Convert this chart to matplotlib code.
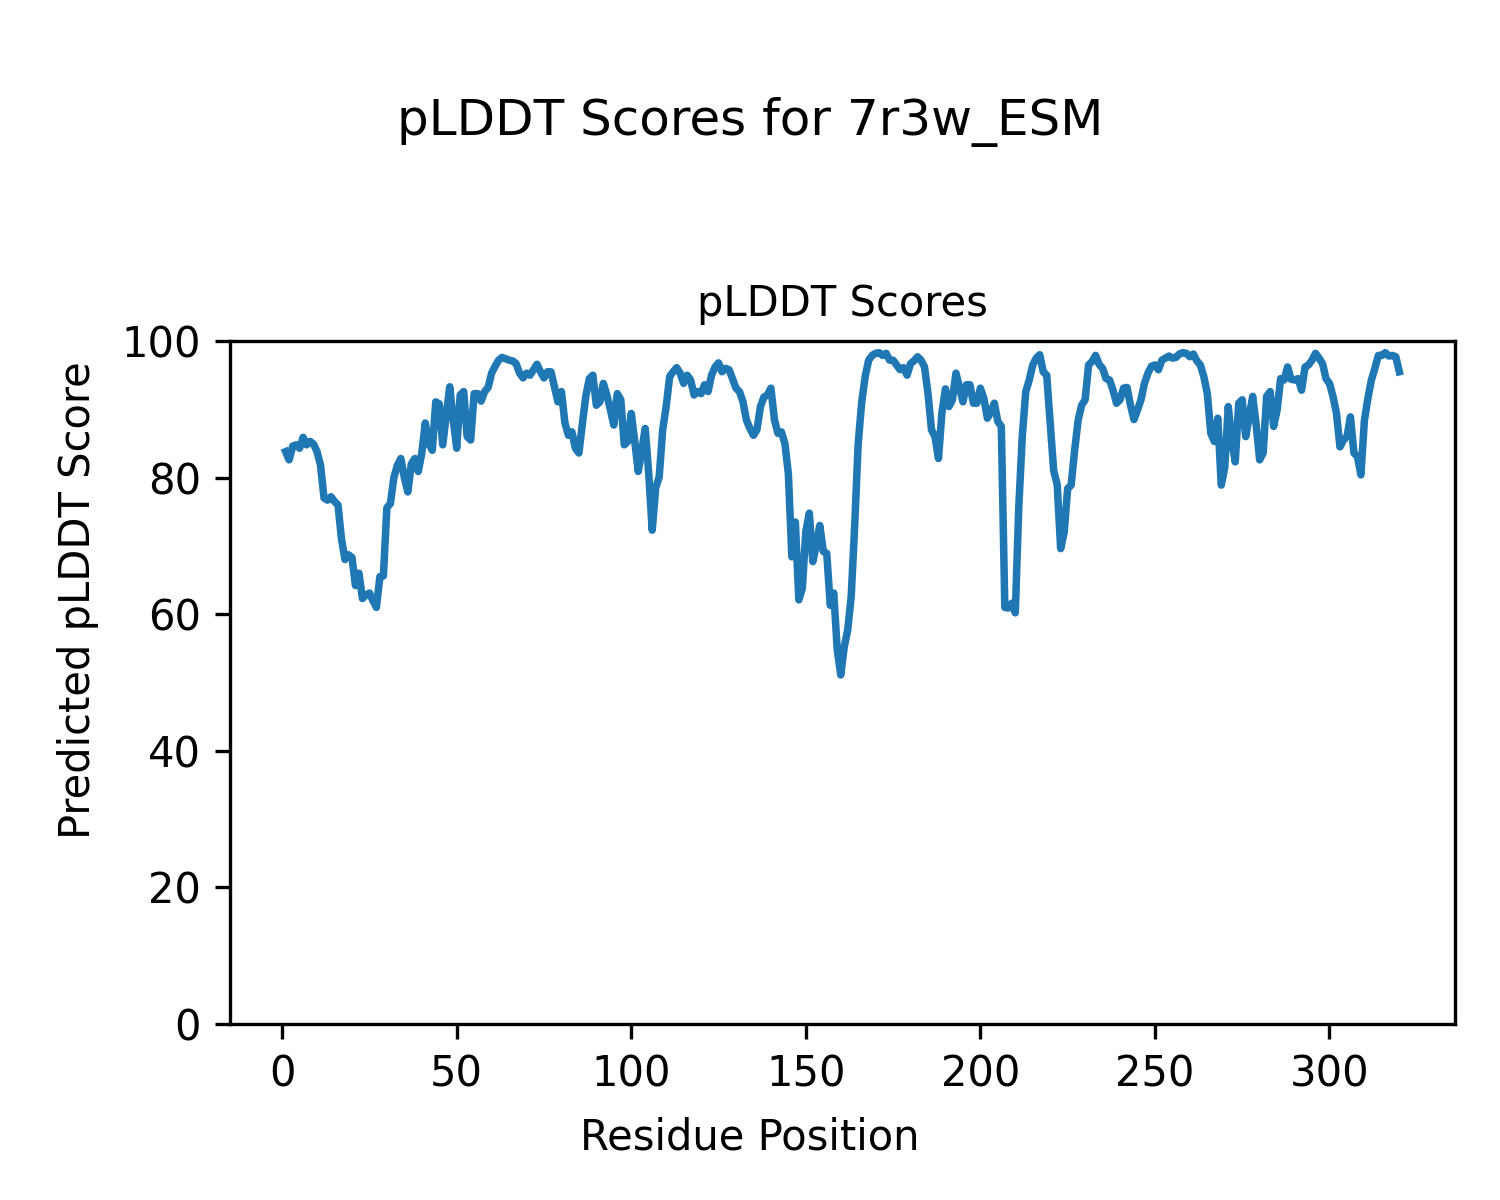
import numpy as np
import matplotlib

matplotlib.use('Agg')
import matplotlib.pyplot as plt

# pLDDT по остаткам
plddt = [
    83.8, 82.6, 84.6, 84.8, 84.3, 85.9, 84.8, 85.3, 84.9, 83.8,
    81.8, 77.0, 76.7, 77.2, 76.5, 76.0, 71.0, 68.0, 68.7, 68.3,
    64.2, 66.0, 62.3, 62.8, 63.1, 62.0, 61.0, 65.5, 65.6, 75.6,
    76.2, 80.0, 81.8, 82.8, 80.0, 77.9, 82.0, 82.8, 80.9, 83.6,
    88.0, 85.0, 84.0, 91.1, 90.8, 84.8, 89.0, 93.3, 88.5, 84.3,
    92.1, 92.6, 86.0, 85.5, 92.3, 92.3, 91.2, 92.6, 93.2, 95.3,
    96.3, 97.2, 97.6, 97.4, 97.2, 97.1, 96.7, 95.3, 94.6, 95.3,
    95.0, 95.8, 96.6, 95.5, 94.6, 95.5, 95.5, 93.3, 91.1, 92.6,
    88.0, 86.2, 86.7, 84.3, 83.6, 87.9, 92.0, 94.5, 95.0, 90.6,
    91.1, 93.8, 92.1, 90.0, 87.7, 92.3, 91.4, 84.8, 85.3, 89.4,
    85.3, 80.9, 84.0, 87.2, 80.6, 72.3, 78.5, 80.1, 87.0, 90.4,
    94.8, 95.5, 96.1, 95.3, 93.8, 95.0, 94.3, 92.1, 92.6, 92.3,
    93.6, 92.6, 95.0, 96.2, 96.8, 95.5, 96.0, 95.8, 94.5, 93.1,
    92.6, 91.1, 88.4, 87.2, 86.2, 87.0, 90.4, 91.8, 92.1, 93.1,
    88.5, 86.5, 86.7, 85.0, 80.6, 68.4, 73.5, 62.1, 63.8, 72.1,
    74.8, 67.7, 70.1, 73.0, 69.2, 68.9, 61.3, 63.1, 54.8, 51.1,
    55.2, 57.7, 62.6, 73.0, 85.0, 91.0, 94.8, 97.2, 97.9, 98.2,
    98.3, 97.9, 98.2, 97.2, 97.2, 96.5, 95.8, 96.1, 95.0, 96.7,
    97.1, 97.7, 97.2, 96.2, 92.3, 87.0, 86.0, 82.8, 89.6, 93.0,
    90.4, 91.4, 95.3, 93.3, 91.1, 93.6, 93.6, 90.9, 90.9, 93.1,
    91.6, 88.7, 89.6, 90.9, 88.2, 87.5, 61.0, 60.9, 61.6, 60.2,
    75.7, 86.0, 92.6, 94.3, 96.5, 97.5, 98.0, 95.5, 95.0, 88.0,
    81.0, 79.0, 69.6, 72.0, 78.4, 78.9, 84.0, 88.4, 90.6, 91.4,
    96.5, 97.0, 97.9, 96.6, 96.0, 94.5, 94.3, 92.8, 90.9, 91.4,
    93.1, 93.2, 90.6, 88.5, 89.9, 91.4, 93.8, 95.3, 96.3, 96.5,
    95.8, 97.2, 97.5, 97.8, 97.5, 97.6, 98.1, 98.3, 98.2, 97.7,
    98.1, 97.1, 96.5, 94.8, 92.3, 86.5, 85.3, 88.7, 78.9, 81.5,
    90.4, 85.5, 82.3, 90.9, 91.4, 86.0, 88.9, 91.9, 87.7, 82.6,
    83.6, 91.9, 92.6, 87.5, 89.9, 94.5, 94.3, 96.2, 94.4, 94.3,
    94.5, 92.8, 96.2, 96.5, 97.2, 98.2, 97.5, 96.7, 94.5, 93.8,
    91.9, 89.4, 84.5, 85.5, 86.0, 88.9, 83.6, 83.1, 80.4, 88.4,
    91.6, 94.3, 96.0, 97.9, 97.9, 98.3, 97.8, 97.9, 97.7, 95.5,
]
residues = np.arange(1, len(plddt) + 1)

name = '7r3w_ESM'

fig, ax = plt.subplots(figsize=(5, 4), dpi=300)
fig.subplots_adjust(left=0.1533, right=0.97, bottom=0.1467, top=0.7158)

ax.plot(residues, plddt, color='#1f77b4', linewidth=1.8)
ax.set_ylim(0, 100)
ax.set_title('pLDDT Scores', fontsize=10)

# подписи осей по центру всей фигуры
fig.supxlabel('Residue Position', fontsize=10, y=0.0517, va='center')
fig.supylabel('Predicted pLDDT Score', fontsize=10, x=0.052, ha='center')
fig.suptitle(f'pLDDT Scores for {name}', fontsize=12, y=0.919)

fig.savefig('out.png', dpi=300)
plt.close('all')
